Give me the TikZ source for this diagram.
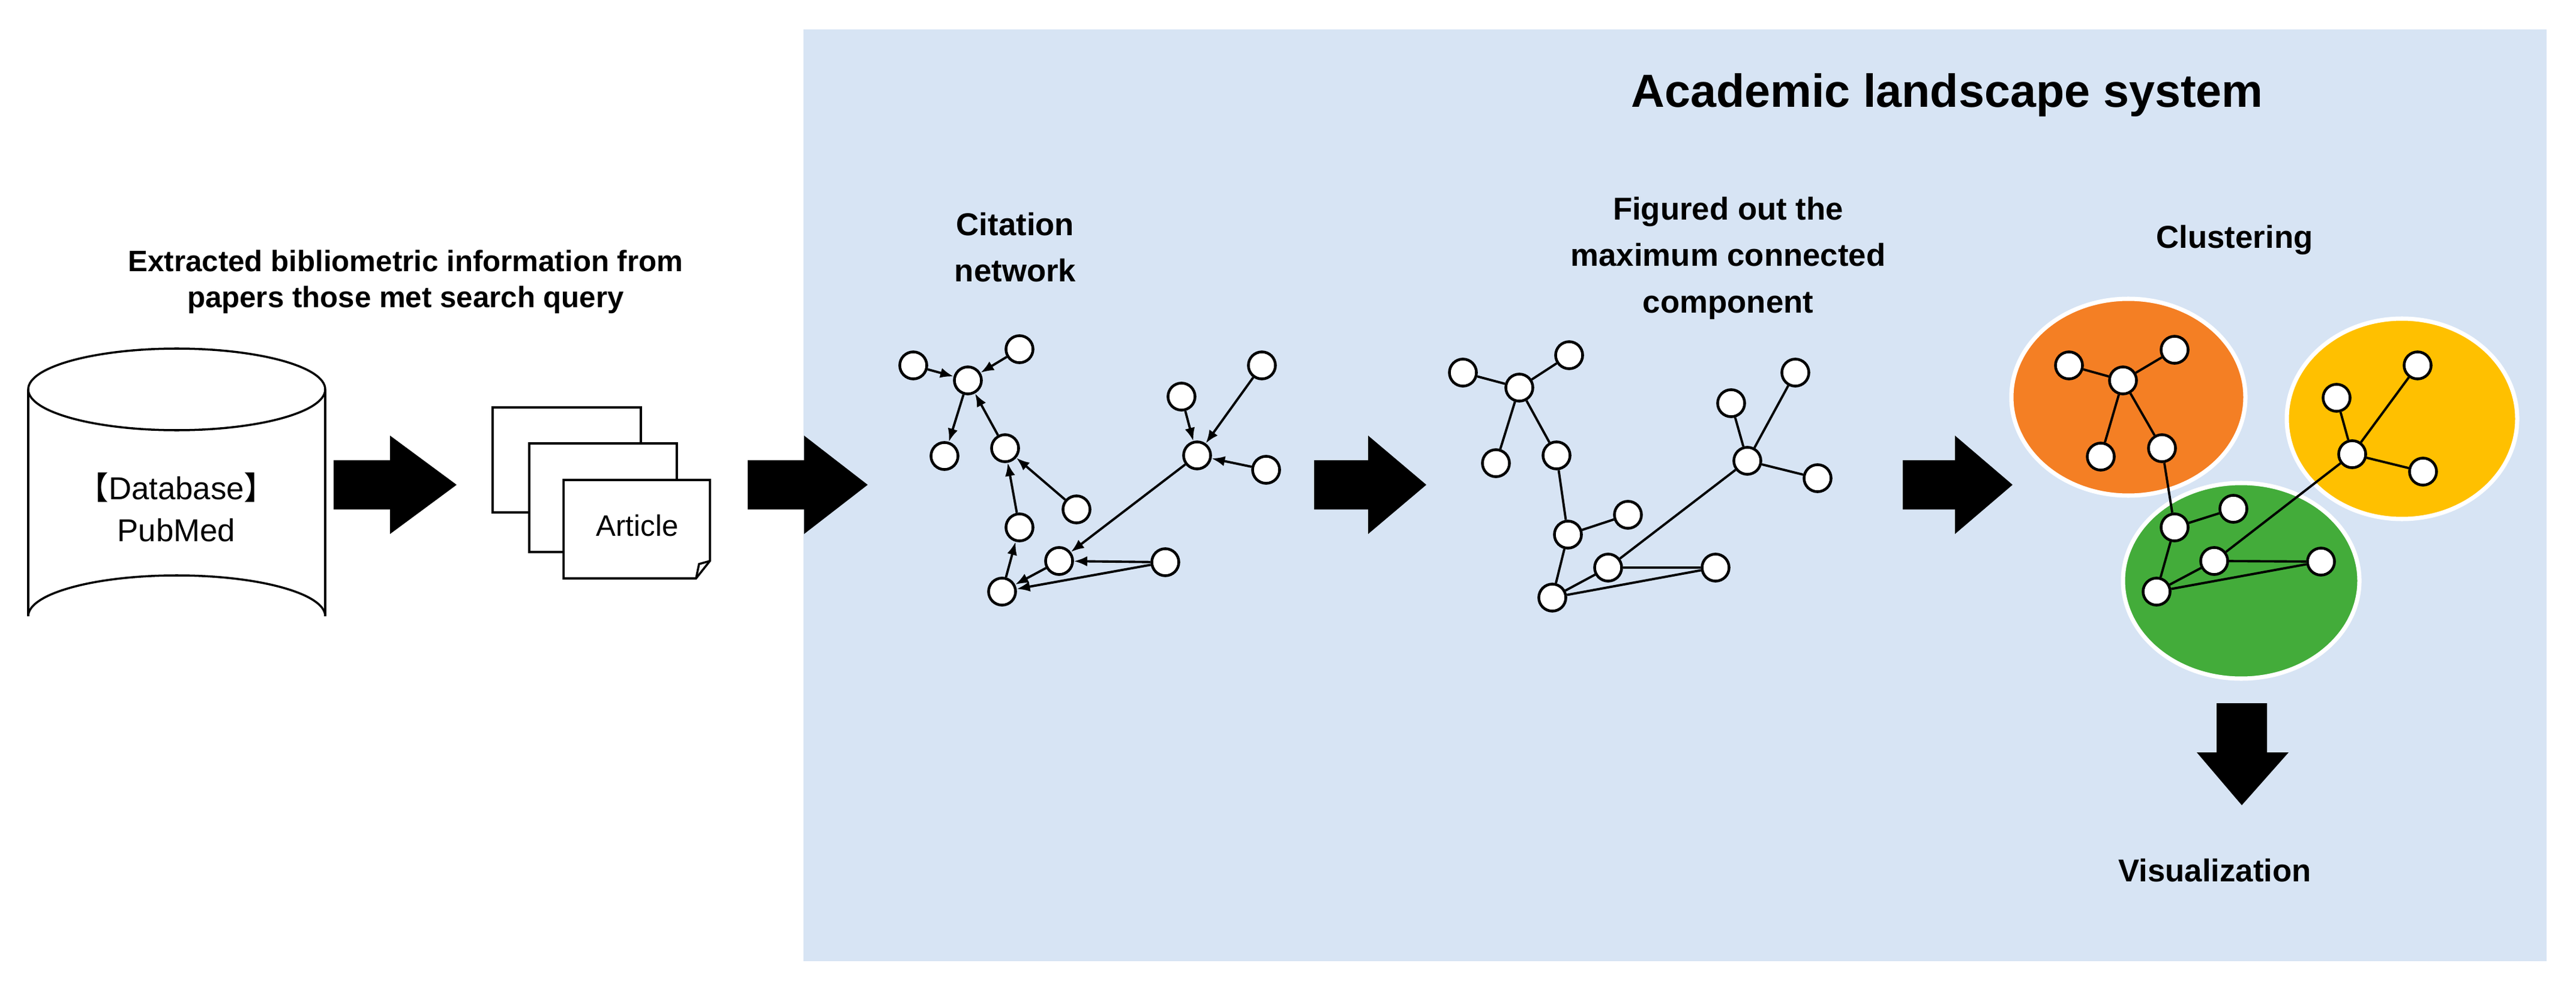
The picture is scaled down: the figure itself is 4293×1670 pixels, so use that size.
\documentclass[tikz,border=0pt]{standalone}
\usepackage{fontspec}
\usetikzlibrary{arrows.meta}
\setmainfont{Liberation Sans}
\newfontfamily\cjk{Noto Sans CJK JP}
\definecolor{bgblue}{HTML}{D7E4F4}
\definecolor{corange}{HTML}{F47F24}
\definecolor{cyellow}{HTML}{FFC000}
\definecolor{cgreen}{HTML}{43AC3A}
\begin{document}
\begin{tikzpicture}[x=0.01cm,y=-0.01cm,
  nd/.style={circle,draw=black,fill=white,line width=1.3pt,minimum size=0.45cm,inner sep=0pt},
  ed/.style={line width=1.1pt},
  ar/.style={line width=1.1pt,-{Latex[length=0.22cm,width=0.17cm]}},
  cl/.style={draw=white,line width=2pt},
  lab/.style={font=\bfseries\fontsize{14}{17}\selectfont,align=center},
  page/.style={draw=black,fill=white,line width=1pt}]
\useasboundingbox (0,0) rectangle (4293,1670);
\fill[bgblue] (1339,49) rectangle (4244,1602);
\node[font=\bfseries\fontsize{22}{26}\selectfont] (title) at (3245,159) {Academic landscape system};
% left
\node[lab] (ext) at (676,470) {Extracted bibliometric information from\\papers those met search query};
\draw[line width=1pt,fill=white] (47,649) -- (47,1027) arc[start angle=180,end angle=360,x radius=247.5,y radius=68] -- (542,649);
\draw[line width=1pt,fill=white] (294.5,649) ellipse[x radius=247.5,y radius=68];
\node[font=\fontsize{15}{18}\selectfont] (db) at (294,812) {{\cjk 【}Database{\cjk 】}};
\node[font=\fontsize{15}{18}\selectfont] (pm) at (294,884) {PubMed};
\fill (556,767) -- (650,767) -- (650,726) -- (761,808) -- (650,890) -- (650,849) -- (556,849) -- cycle;
\draw[page] (821,679) rectangle (1068,854);
\draw[page] (882,739) rectangle (1128,920);
\draw[page] (939,800) -- (1183,800) -- (1183,935) -- (1160,964) -- (939,964) -- cycle;
\draw[line width=1pt] (1183,935) -- (1165,940) -- (1160,964);
\node[font=\fontsize{14}{17}\selectfont] (art) at (1062,876) {Article};
\fill (1246,767) -- (1340,767) -- (1340,726) -- (1446,808) -- (1340,890) -- (1340,849) -- (1246,849) -- cycle;
\fill (2190,767) -- (2280,767) -- (2280,726) -- (2377,808) -- (2280,890) -- (2280,849) -- (2190,849) -- cycle;
\fill (3171,767) -- (3258,767) -- (3258,726) -- (3354,808) -- (3258,890) -- (3258,849) -- (3171,849) -- cycle;
\fill (3694,1172) -- (3778,1172) -- (3778,1254) -- (3814,1254) -- (3736,1342) -- (3661,1254) -- (3694,1254) -- cycle;
\node[font=\bfseries\fontsize{15}{18}\selectfont] (vis) at (3691,1451) {Visualization};
\node[lab,font=\bfseries\fontsize{15}{22}\selectfont] (cit) at (1692,412) {Citation\\network};
\node[lab,font=\bfseries\fontsize{15}{22}\selectfont] (fig) at (2880,430) {Figured out the\\maximum connected\\component};
\node[lab,font=\bfseries\fontsize{15}{22}\selectfont] (clu) at (3724,400) {Clustering};
% citation network
\foreach \n/\x/\y in {a/1522/609,b/1613/634,c/1699/582,d/1574/760,e/1675/747,f/1794/849,g/1699/879,h/1765/935,i/1670/986,j/1942/937,k/1995/759,l/1969/661,m/2103/609,n/2110/783}
  \node[nd] (c\n) at (\x,\y) {};
\foreach \s/\t in {a/b,c/b,b/d,e/b,f/e,g/e,i/g,h/i,j/i,j/h,k/h,l/k,m/k,n/k}
  \draw[ar] (c\s) -- (c\t);
% max component
\foreach \n/\x/\y in {a/2438/621,b/2532/646,c/2615/592,d/2493/772,e/2594/759,f/2713/858,g/2613/891,h/2680/946,i/2587/996,j/2859/946,k/2912/768,l/2885/672,m/2992/621,n/3029/797}
  \node[nd] (m\n) at (\x,\y) {};
\foreach \s/\t in {a/b,c/b,b/d,b/e,e/g,g/f,g/i,i/h,i/j,h/j,h/k,k/l,k/m,k/n}
  \draw[ed] (m\s) -- (m\t);
% clustering
\draw[cl,fill=corange] (3547,662) ellipse[x radius=195,y radius=164];
\draw[cl,fill=cyellow] (4003,698) ellipse[x radius=192,y radius=167];
\draw[cl,fill=cgreen] (3735,968) ellipse[x radius=197,y radius=163];
\foreach \n/\x/\y in {a/3448/609,b/3538/634,c/3624/583,d/3501/761,e/3603/747,g/3624/879,f/3722/848,h/3690/935,j/3868/936,i/3594/986,l/3894/663,m/4029/609,k/3920/757,n/4038/786}
  \node[nd] (s\n) at (\x,\y) {};
\foreach \s/\t in {a/b,c/b,b/d,b/e,e/g,g/f,g/i,i/h,i/j,h/j,h/k,k/l,k/m,k/n}
  \draw[ed] (s\s) -- (s\t);
\end{tikzpicture}
\end{document}
